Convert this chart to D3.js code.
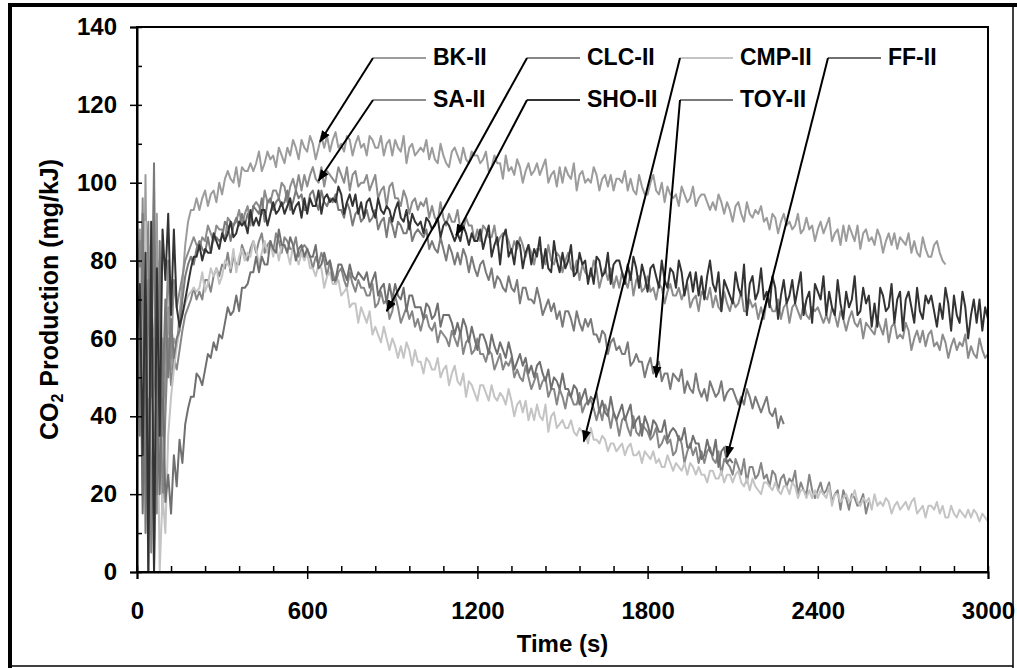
<!DOCTYPE html>
<html>
<head>
<meta charset="utf-8">
<script src="https://d3js.org/d3.v7.min.js"></script>
<style>
  body { margin: 0; background: #fff; }
  svg text { font-family: "Liberation Sans", Arial, sans-serif; font-weight: bold; fill: #000; }
</style>
<title>CO2 production</title>
</head>
<body>
<svg id="chart" width="1017" height="668"></svg>
<script>
// one reading every 10 s
var timeStep = 10;

var xTicks = [0, 600, 1200, 1800, 2400, 3000];
var yTicks = [0, 20, 40, 60, 80, 100, 120, 140];

var bkValues = [
  65, 88, 40, 102, 30, 70, 55, 92, 25, 60,
  45, 68, 52, 60, 58, 66, 74, 84, 90, 93,
  93, 96, 93, 96, 98, 94, 97, 98, 95, 100,
  97, 101, 103, 101, 100, 104, 99, 104, 103, 103,
  105, 103, 105, 108, 103, 105, 108, 106, 107, 104,
  109, 107, 105, 109, 107, 111, 109, 106, 111, 109,
  108, 112, 110, 106, 109, 112, 109, 112, 108, 111,
  113, 109, 110, 108, 112, 111, 107, 110, 112, 109,
  110, 107, 112, 111, 109, 109, 112, 107, 110, 111,
  107, 111, 109, 108, 112, 105, 109, 110, 107, 108,
  109, 108, 111, 106, 109, 106, 105, 110, 107, 105,
  104, 108, 109, 107, 105, 109, 106, 105, 108, 107,
  107, 105, 106, 108, 103, 104, 107, 105, 105, 101,
  107, 103, 104, 102, 106, 104, 100, 103, 105, 102,
  103, 105, 102, 104, 106, 100, 102, 103, 99, 104,
  100, 104, 102, 101, 105, 98, 102, 103, 100, 101,
  100, 104, 102, 98, 101, 102, 99, 102, 98, 101,
  101, 100, 103, 98, 101, 98, 97, 102, 99, 97,
  97, 100, 102, 98, 97, 100, 95, 99, 97, 96,
  97, 94, 99, 97, 95, 96, 99, 94, 96, 97,
  97, 95, 93, 95, 93, 97, 95, 92, 95, 93,
  90, 94, 95, 92, 90, 95, 92, 91, 93, 92,
  94, 90, 91, 88, 92, 91, 87, 90, 92, 89,
  90, 88, 89, 92, 87, 88, 91, 88, 89, 85,
  88, 90, 87, 89, 91, 85, 87, 88, 84, 89,
  85, 89, 87, 85, 89, 83, 87, 88, 85, 86,
  84, 88, 86, 82, 85, 87, 84, 87, 83, 86,
  85, 84, 87, 82, 85, 82, 81, 86, 83, 81,
  81, 84, 85, 82, 80, 79
];

var saValues = [
  72, 48, 96, 25, 84, 45, 98, 15, 66, 35,
  58, 80, 55, 75, 68, 72, 76, 80, 82, 84,
  86, 84, 83, 86, 85, 89, 87, 85, 89, 88,
  88, 85, 91, 90, 89, 90, 93, 89, 92, 94,
  89, 94, 95, 94, 92, 98, 95, 95, 98, 98,
  96, 100, 99, 95, 99, 101, 98, 102, 98, 102,
  99, 102, 104, 101, 100, 104, 99, 103, 102, 101,
  100, 104, 102, 100, 104, 98, 102, 103, 99, 100,
  100, 102, 98, 100, 102, 96, 98, 99, 94, 99,
  100, 96, 96, 94, 98, 96, 92, 95, 96, 93,
  95, 94, 96, 91, 94, 91, 90, 95, 91, 89,
  92, 90, 90, 93, 88, 88, 91, 89, 89, 85,
  88, 85, 89, 88, 86, 86, 89, 84, 86, 87,
  87, 85, 82, 85, 83, 86, 84, 81, 84, 82,
  79, 83, 83, 81, 79, 84, 80, 79, 82, 81,
  77, 80, 82, 78, 77, 80, 75, 79, 77, 76,
  76, 80, 78, 73, 76, 78, 75, 78, 73, 76,
  73, 77, 75, 73, 77, 71, 75, 76, 72, 73,
  76, 72, 73, 70, 74, 73, 69, 72, 74, 71,
  71, 73, 70, 72, 74, 68, 70, 71, 67, 72,
  71, 70, 73, 68, 71, 68, 67, 72, 69, 67,
  70, 68, 69, 72, 67, 67, 70, 68, 69, 65,
  68, 65, 70, 69, 67, 67, 70, 65, 68, 69,
  64, 68, 69, 67, 65, 69, 66, 65, 68, 67,
  68, 66, 64, 66, 64, 68, 66, 63, 67, 65,
  62, 65, 67, 64, 63, 65, 60, 64, 63, 62,
  61, 65, 63, 61, 65, 59, 63, 64, 60, 61,
  60, 64, 62, 57, 60, 62, 59, 62, 58, 61,
  62, 58, 59, 57, 61, 59, 55, 58, 60, 57,
  59, 58, 61, 55, 58, 56, 55, 60, 57, 55,
  56
];

var clcValues = [
  55, 85, 20, 70, 90, 5, 60, 35, 80, 15,
  40, 60, 48, 55, 52, 57, 62, 66, 68, 70,
  73, 70, 72, 70, 75, 75, 72, 76, 78, 76,
  79, 78, 82, 77, 81, 79, 79, 84, 82, 80,
  83, 85, 82, 85, 87, 82, 84, 85, 82, 87,
  85, 82, 86, 85, 83, 83, 86, 81, 83, 84,
  83, 81, 78, 81, 79, 82, 80, 76, 80, 77,
  74, 77, 78, 75, 73, 77, 74, 72, 75, 73,
  73, 71, 71, 74, 68, 69, 72, 69, 70, 65,
  67, 71, 68, 64, 66, 68, 65, 67, 63, 65,
  62, 65, 66, 63, 62, 64, 59, 62, 61, 60,
  58, 62, 60, 58, 62, 56, 59, 60, 56, 57,
  60, 56, 56, 54, 57, 56, 52, 54, 56, 52,
  54, 53, 55, 50, 52, 50, 49, 53, 50, 47,
  49, 51, 47, 49, 50, 45, 47, 47, 43, 47,
  45, 42, 46, 45, 43, 43, 46, 41, 43, 44,
  44, 42, 39, 42, 39, 43, 41, 37, 41, 39,
  35, 39, 40, 37, 35, 40, 36, 35, 38, 37,
  36, 34, 35, 37, 32, 33, 35, 33, 34, 30,
  31, 35, 33, 28, 31, 33, 30, 32, 28, 31,
  28, 31, 32, 29, 28, 31, 25, 29, 28, 27,
  25, 29, 27, 25, 29, 23, 27, 27, 24, 25,
  28, 24, 25, 22, 26, 25, 21, 24, 25, 22,
  24, 23, 26, 20, 23, 21, 20, 25, 21, 19,
  21, 23, 20, 21, 23, 18, 20, 21, 16, 21,
  19, 16, 20, 19, 17, 18, 20, 15, 18
];

var cmpValues = [
  50, 78, 25, 90, 45, 65, 30, 55, 0, 20,
  10, 35, 45, 52, 58, 62, 66, 69, 71, 72,
  73, 72, 73, 77, 72, 74, 78, 76, 78, 74,
  76, 80, 79, 78, 83, 77, 81, 83, 80, 82,
  81, 85, 83, 79, 82, 85, 82, 85, 81, 84,
  80, 84, 84, 82, 79, 84, 81, 79, 82, 80,
  82, 78, 78, 76, 79, 78, 73, 76, 77, 74,
  74, 75, 71, 72, 73, 68, 69, 69, 64, 68,
  66, 64, 67, 61, 63, 61, 59, 63, 60, 57,
  60, 58, 55, 58, 55, 59, 57, 53, 57, 54,
  54, 51, 55, 54, 52, 52, 55, 50, 52, 53,
  48, 51, 53, 49, 48, 51, 45, 49, 48, 46,
  44, 48, 48, 46, 44, 48, 45, 44, 46, 45,
  43, 47, 44, 40, 43, 44, 41, 44, 39, 42,
  39, 43, 40, 39, 43, 36, 40, 41, 37, 38,
  39, 37, 37, 39, 36, 35, 37, 36, 36, 33,
  37, 34, 34, 33, 35, 34, 31, 33, 33, 31,
  32, 33, 30, 32, 33, 30, 30, 31, 28, 31,
  30, 29, 31, 28, 29, 27, 27, 30, 28, 26,
  28, 27, 26, 28, 25, 28, 27, 25, 27, 25,
  25, 23, 26, 26, 24, 24, 26, 23, 25, 25,
  23, 25, 26, 23, 22, 24, 21, 24, 22, 21,
  20, 23, 23, 22, 21, 23, 21, 20, 22, 22,
  20, 23, 22, 19, 21, 21, 19, 21, 19, 21,
  19, 21, 20, 19, 22, 17, 20, 20, 18, 19,
  20, 18, 19, 21, 18, 17, 19, 18, 19, 16,
  20, 17, 18, 17, 19, 18, 15, 17, 18, 16,
  17, 18, 16, 18, 19, 15, 16, 17, 14, 17,
  17, 16, 18, 15, 17, 14, 14, 17, 15, 14,
  16, 15, 14, 16, 14, 16, 15, 13, 15, 14,
  13
];

var ffValues = [
  40, 70, 15, 60, 0, 80, 0, 45, 20, 55,
  18, 25, 15, 30, 22, 34, 28, 38, 42, 45,
  45, 51, 50, 48, 52, 56, 55, 59, 57, 61,
  60, 64, 68, 66, 67, 71, 67, 73, 73, 74,
  77, 77, 81, 77, 81, 79, 79, 85, 83, 82,
  88, 84, 84, 82, 86, 84, 80, 83, 84, 81,
  83, 81, 81, 84, 78, 79, 82, 79, 80, 75,
  75, 79, 79, 77, 75, 79, 76, 75, 77, 76,
  75, 77, 73, 75, 77, 71, 73, 74, 69, 74,
  70, 74, 71, 70, 73, 67, 71, 71, 68, 68,
  68, 65, 69, 68, 65, 66, 69, 63, 66, 66,
  66, 64, 61, 64, 61, 65, 63, 59, 63, 60,
  57, 61, 61, 59, 56, 61, 58, 56, 59, 57,
  55, 59, 56, 52, 54, 56, 53, 55, 51, 53,
  50, 53, 54, 51, 49, 52, 47, 50, 49, 47,
  51, 47, 47, 45, 48, 47, 43, 45, 47, 43,
  45, 44, 46, 41, 44, 41, 40, 45, 41, 39,
  41, 43, 39, 41, 43, 37, 39, 40, 35, 40,
  38, 35, 39, 38, 36, 36, 39, 34, 36, 37,
  36, 34, 34, 37, 32, 32, 35, 33, 33, 29,
  30, 34, 31, 30, 34, 27, 31, 32, 28, 29,
  28
];

var shoValues = [
  60, 74, 30, 82, 0, 90, 0, 78, 35, 88,
  75, 92, 66, 88, 68, 63, 66, 70, 74, 78,
  81, 81, 84, 80, 83, 82, 82, 87, 85, 83,
  87, 85, 87, 90, 86, 87, 90, 89, 90, 87,
  93, 89, 91, 89, 93, 93, 89, 92, 95, 92,
  93, 95, 92, 94, 96, 92, 94, 95, 91, 96,
  92, 96, 94, 94, 98, 92, 96, 97, 95, 96,
  95, 99, 97, 92, 95, 97, 94, 97, 92, 95,
  91, 95, 96, 93, 91, 96, 93, 92, 94, 93,
  90, 93, 95, 91, 90, 93, 88, 92, 90, 89,
  90, 87, 91, 90, 88, 89, 91, 86, 89, 90,
  89, 87, 85, 87, 85, 89, 87, 84, 87, 85,
  85, 88, 83, 86, 89, 81, 84, 86, 79, 86,
  88, 81, 83, 79, 85, 84, 78, 82, 84, 79,
  83, 81, 86, 78, 83, 78, 77, 85, 80, 77,
  82, 78, 80, 84, 76, 77, 82, 79, 80, 74,
  78, 74, 81, 80, 76, 77, 82, 74, 79, 80,
  80, 77, 74, 79, 75, 81, 78, 73, 79, 76,
  72, 78, 79, 76, 73, 80, 75, 73, 78, 77,
  73, 80, 77, 71, 75, 77, 72, 77, 71, 76,
  70, 76, 80, 74, 72, 77, 67, 75, 73, 71,
  69, 77, 73, 71, 79, 66, 74, 76, 70, 72,
  78, 70, 72, 68, 76, 73, 65, 71, 75, 69,
  71, 75, 69, 73, 77, 66, 70, 72, 64, 74,
  72, 70, 76, 66, 72, 68, 66, 75, 69, 65,
  72, 68, 70, 76, 66, 67, 73, 69, 71, 63,
  69, 63, 73, 71, 67, 68, 74, 64, 70, 72,
  62, 70, 72, 68, 64, 73, 67, 65, 71, 69,
  71, 67, 63, 69, 65, 73, 69, 62, 71, 66,
  64, 72, 68, 60, 66, 70, 64, 70, 62, 68,
  65
];

var toyValues = [
  80, 35, 92, 10, 75, 50, 105, 20, 85, 45,
  70, 50, 65, 55, 60, 62, 70, 76, 79, 81,
  79, 83, 85, 83, 82, 86, 82, 86, 86, 85,
  86, 90, 89, 85, 89, 91, 89, 92, 89, 92,
  90, 94, 93, 92, 96, 90, 95, 96, 93, 95,
  96, 94, 95, 98, 93, 95, 98, 96, 97, 93,
  93, 97, 98, 95, 93, 98, 95, 94, 96, 95,
  97, 93, 93, 91, 95, 93, 89, 92, 93, 90,
  91, 93, 90, 91, 93, 88, 90, 91, 86, 91,
  89, 86, 90, 89, 87, 87, 90, 85, 87, 88,
  87, 86, 88, 83, 85, 83, 82, 86, 83, 80,
  84, 82, 79, 82, 79, 83, 81, 77, 81, 78,
  76, 79, 80, 77, 75, 78, 73, 76, 75, 73,
  72, 76, 73, 72, 75, 69, 73, 73, 70, 70,
  69, 73, 70, 66, 68, 70, 67, 69, 65, 67,
  63, 67, 67, 65, 62, 67, 64, 62, 65, 63,
  65, 61, 61, 59, 62, 61, 56, 59, 60, 57,
  58, 56, 56, 59, 53, 54, 56, 54, 54, 50,
  53, 55, 51, 53, 54, 49, 51, 51, 47, 51,
  50, 49, 52, 46, 49, 47, 46, 51, 47, 45,
  47, 44, 49, 47, 45, 46, 49, 44, 46, 47,
  47, 45, 43, 45, 43, 47, 45, 42, 45, 43,
  41, 43, 45, 41, 40, 42, 37, 40, 38
];

var seriesNames = ["BK-II", "SA-II", "CLC-II", "CMP-II", "FF-II", "TOY-II", "SHO-II"];
var seriesValues = [bkValues, saValues, clcValues, cmpValues, ffValues, toyValues, shoValues];
var seriesColors = ["#9c9c9c", "#8c8c8c", "#868686", "#c4c4c4", "#707070", "#7a7a7a", "#333333"];

// label placement (pixels) and the point each arrow points at (data units)
var labelNames = ["BK-II", "SA-II", "CLC-II", "SHO-II", "CMP-II", "TOY-II", "FF-II"];
var labelX = [433, 433, 587, 587, 740, 740, 888];
var labelY = [65, 107, 65, 107, 65, 107, 65];
var arrowTime = [645, 640, 880, 1125, 1575, 1830, 2080];
var arrowValue = [110.5, 100.5, 67, 86.5, 33.5, 50, 29.5];

var svg = d3.select("#chart");
var plotLeft = 137, plotRight = 988, plotTop = 27, plotBottom = 572;

var x = d3.scaleLinear().domain([0, 3000]).range([plotLeft, plotRight]);
var y = d3.scaleLinear().domain([0, 140]).range([plotBottom, plotTop]);

// outer frame (thick top/left like the original)
svg.append("line").attr("x1", 8).attr("x2", 1017).attr("y1", 5).attr("y2", 5)
  .style("stroke", "#000").style("stroke-width", 4);
svg.append("line").attr("x1", 10).attr("x2", 10).attr("y1", 3).attr("y2", 668)
  .style("stroke", "#000").style("stroke-width", 4);
svg.append("line").attr("x1", 1013).attr("x2", 1013).attr("y1", 5).attr("y2", 668)
  .style("stroke", "#000").style("stroke-width", 1.5);
svg.append("line").attr("x1", 10).attr("x2", 1013).attr("y1", 666).attr("y2", 666)
  .style("stroke", "#000").style("stroke-width", 1.5);

// series
var line = d3.line()
  .x(function (d, i) { return x(i * timeStep); })
  .y(function (d) { return y(d); });

var plot = svg.append("g");
seriesValues.forEach(function (vals, k) {
  plot.append("path")
    .datum(vals)
    .attr("d", line)
    .style("fill", "none")
    .style("stroke", seriesColors[k])
    .style("stroke-width", 2)
    .style("stroke-linejoin", "round");
});

// plot box
svg.append("rect")
  .attr("x", plotLeft).attr("y", plotTop)
  .attr("width", plotRight - plotLeft).attr("height", plotBottom - plotTop)
  .style("fill", "none").style("stroke", "#000").style("stroke-width", 2);

// minor ticks (inside)
svg.append("g")
  .attr("transform", "translate(0," + plotBottom + ")")
  .call(d3.axisBottom(x).tickValues(d3.range(0, 3001, 120)).tickSize(-6).tickFormat(""))
  .call(function (g) { g.select(".domain").remove(); })
  .selectAll("line").style("stroke", "#000").style("stroke-width", 1.5);
svg.append("g")
  .attr("transform", "translate(" + plotLeft + ",0)")
  .call(d3.axisLeft(y).tickValues(d3.range(0, 141, 10)).tickSize(-5).tickFormat(""))
  .call(function (g) { g.select(".domain").remove(); })
  .selectAll("line").style("stroke", "#000").style("stroke-width", 1.5);

// major ticks with labels
var xAxis = svg.append("g")
  .attr("transform", "translate(0," + plotBottom + ")")
  .call(d3.axisBottom(x).tickValues(xTicks).tickSize(7).tickPadding(23).tickFormat(d3.format("d")));
var yAxis = svg.append("g")
  .attr("transform", "translate(" + plotLeft + ",0)")
  .call(d3.axisLeft(y).tickValues(yTicks).tickSize(7).tickPadding(13).tickFormat(d3.format("d")));
[xAxis, yAxis].forEach(function (g) {
  g.select(".domain").style("stroke", "#000").style("stroke-width", 2);
  g.selectAll("line").style("stroke", "#000").style("stroke-width", 1.5);
  g.selectAll("text")
    .style("font-family", "'Liberation Sans', Arial, sans-serif")
    .style("font-weight", "bold")
    .style("font-size", "24px")
    .style("fill", "#000");
});

// axis titles
svg.append("text")
  .attr("x", (plotLeft + plotRight) / 2).attr("y", 652)
  .attr("text-anchor", "middle")
  .style("font-size", "24px")
  .text("Time (s)");

var yTitle = svg.append("text")
  .attr("transform", "translate(58," + (plotTop + plotBottom) / 2 + ") rotate(-90)")
  .attr("text-anchor", "middle")
  .style("font-size", "25px");
yTitle.append("tspan").text("CO");
yTitle.append("tspan").attr("dy", 5).style("font-size", "16px").text("2");
yTitle.append("tspan").attr("dy", -5).text(" Production (mg/kJ)");

// arrow labels
svg.append("defs").append("marker")
  .attr("id", "head")
  .attr("viewBox", "0 0 12 10")
  .attr("refX", 11).attr("refY", 5)
  .attr("markerWidth", 12).attr("markerHeight", 10)
  .attr("markerUnits", "userSpaceOnUse")
  .attr("orient", "auto")
  .append("path").attr("d", "M0,0.5 L12,5 L0,9.5 Z").style("fill", "#000");

labelNames.forEach(function (name, k) {
  var k2 = seriesNames.indexOf(name);
  var lx = labelX[k] - 60, ly = labelY[k] - 7;
  svg.append("line")
    .attr("x1", lx).attr("x2", lx + 53).attr("y1", ly).attr("y2", ly)
    .style("stroke", seriesColors[k2]).style("stroke-width", 2);
  svg.append("line")
    .attr("x1", lx).attr("y1", ly)
    .attr("x2", x(arrowTime[k])).attr("y2", y(arrowValue[k]))
    .attr("marker-end", "url(#head)")
    .style("stroke", "#000").style("stroke-width", 2);
  svg.append("text")
    .attr("x", labelX[k]).attr("y", labelY[k])
    .style("font-size", "23px")
    .text(name);
});
</script>
</body>
</html>
